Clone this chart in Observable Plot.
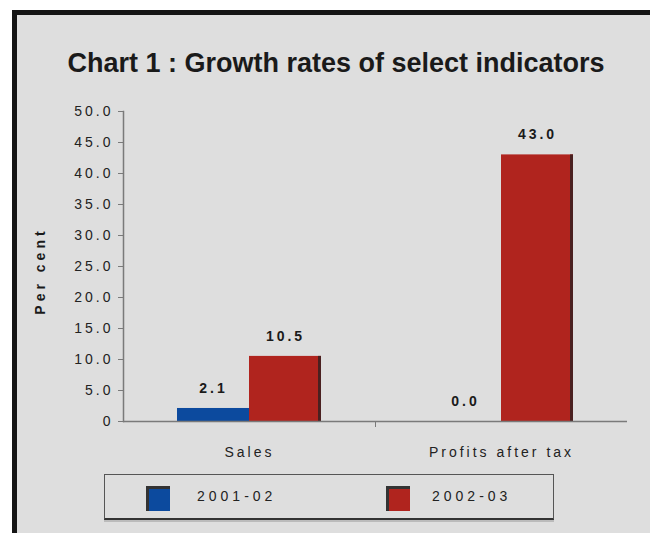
<!DOCTYPE html>
<html><head><meta charset="utf-8">
<script src="https://cdn.jsdelivr.net/npm/d3@7"></script>
<script src="https://cdn.jsdelivr.net/npm/@observablehq/plot@0.6"></script>
<style>
body{margin:0;background:#fff;font-family:"Liberation Sans",Arial,sans-serif;}
#wrap{position:relative;width:650px;height:533px;overflow:hidden;}
#frame{position:absolute;left:12px;top:10px;width:660px;height:540px;border-left:5px solid #151515;border-top:5px solid #151515;background:#dedede;}
#title{position:absolute;left:0;width:672px;top:48px;line-height:30px;text-align:center;font-weight:bold;font-size:27px;color:#1a1a1a;white-space:nowrap;}
#chart{position:absolute;left:0;top:70px;}
#ylab{position:absolute;left:40px;top:271px;transform:translate(-50%,-50%) rotate(-90deg);font-weight:bold;font-size:14px;letter-spacing:4px;white-space:nowrap;color:#1a1a1a;}
#legend{position:absolute;left:104px;top:474px;width:448px;height:43px;border:1px solid #555;border-bottom:2px solid #333;box-shadow:0 2px 0 #bbb;}
.sw{position:absolute;top:11px;width:24px;height:25px;box-sizing:border-box;}
.lt{position:absolute;top:13px;font-size:14px;letter-spacing:4px;color:#222;white-space:nowrap;}
</style></head>
<body>
<div id="wrap">
  <div id="frame"></div>
  <div id="title"></div>
  <div id="ylab"></div>
  <div id="chart"></div>
  <div id="legend"></div>
</div>
<script>
const title = "Chart 1 : Growth rates of select indicators";
const yLabel = "Per cent";
const categories = ["Sales", "Profits after tax"];
const years = ["2001-02", "2002-03"];
const values2001 = [2.1, 0.0];
const values2002 = [10.5, 43.0];
const yTicks = [0, 5, 10, 15, 20, 25, 30, 35, 40, 45, 50];
const colors = ["#0c4a9e", "#b0241e"];

document.getElementById("title").textContent = title;
document.getElementById("ylab").textContent = yLabel;

const rows = [];
categories.forEach((c, i) => {
  rows.push({category: c, year: years[0], value: values2001[i]});
  rows.push({category: c, year: years[1], value: values2002[i]});
});

const W = 650, ML = 123, MR = 23;
const fxStep = (W - ML - MR) / categories.length;
const axisColor = "#7a7a7a";

const chart = Plot.plot({
  width: W, height: 400,
  marginTop: 41, marginBottom: 49, marginLeft: ML, marginRight: MR,
  style: {background: "transparent", fontFamily: "Liberation Sans, Arial, sans-serif", fontSize: "14px", color: "#222", letterSpacing: "3px"},
  fx: {domain: categories, padding: 0, label: null, axis: null},
  x: {domain: years, paddingInner: 0, paddingOuter: 0.734, axis: null},
  y: {domain: [0, 50], label: null},
  color: {domain: years, range: colors},
  marks: [
    Plot.barY(rows, {fx: "category", x: "year", y: "value", fill: "year"}),
    Plot.barY(rows.filter(d => d.year === years[1]), {fx: "category", x: "year", y: "value", fill: "#4a2020", insetLeft: 69}),
    Plot.text(rows, {fx: "category", x: "year", y: "value", text: d => d.value.toFixed(1), dy: -20, fontWeight: "bold", fill: "#1a1a1a"}),
    Plot.ruleY([0], {stroke: axisColor, strokeWidth: 1.5}),
    Plot.frame({anchor: "left", fx: () => categories[0], stroke: axisColor, strokeWidth: 1.5}),
    Plot.axisY({ticks: yTicks, tickFormat: d => d === 0 ? "0" : d.toFixed(1), tickSize: 5, tickPadding: 5, label: null, stroke: axisColor, fill: "#222"}),
    Plot.axisFx({anchor: "bottom", tickSize: 0, tickPadding: 26, label: null, fill: "#222"}),
    Plot.axisFx({anchor: "bottom", ticks: [categories[1]], tickSize: 6, tickFormat: () => "", dx: -fxStep / 2, label: null, stroke: axisColor})
  ]
});
document.getElementById("chart").append(chart);

const legend = document.getElementById("legend");
const swX = [41, 281], txtX = [92, 327];
years.forEach((y, i) => {
  const s = document.createElement("div");
  s.className = "sw";
  s.style.left = swX[i] + "px";
  s.style.background = colors[i];
  s.style.borderTop = "3px solid #333";
  s.style.borderLeft = "3px solid #333";
  legend.append(s);
  const t = document.createElement("div");
  t.className = "lt";
  t.style.left = txtX[i] + "px";
  t.textContent = y;
  legend.append(t);
});
</script>
</body></html>
